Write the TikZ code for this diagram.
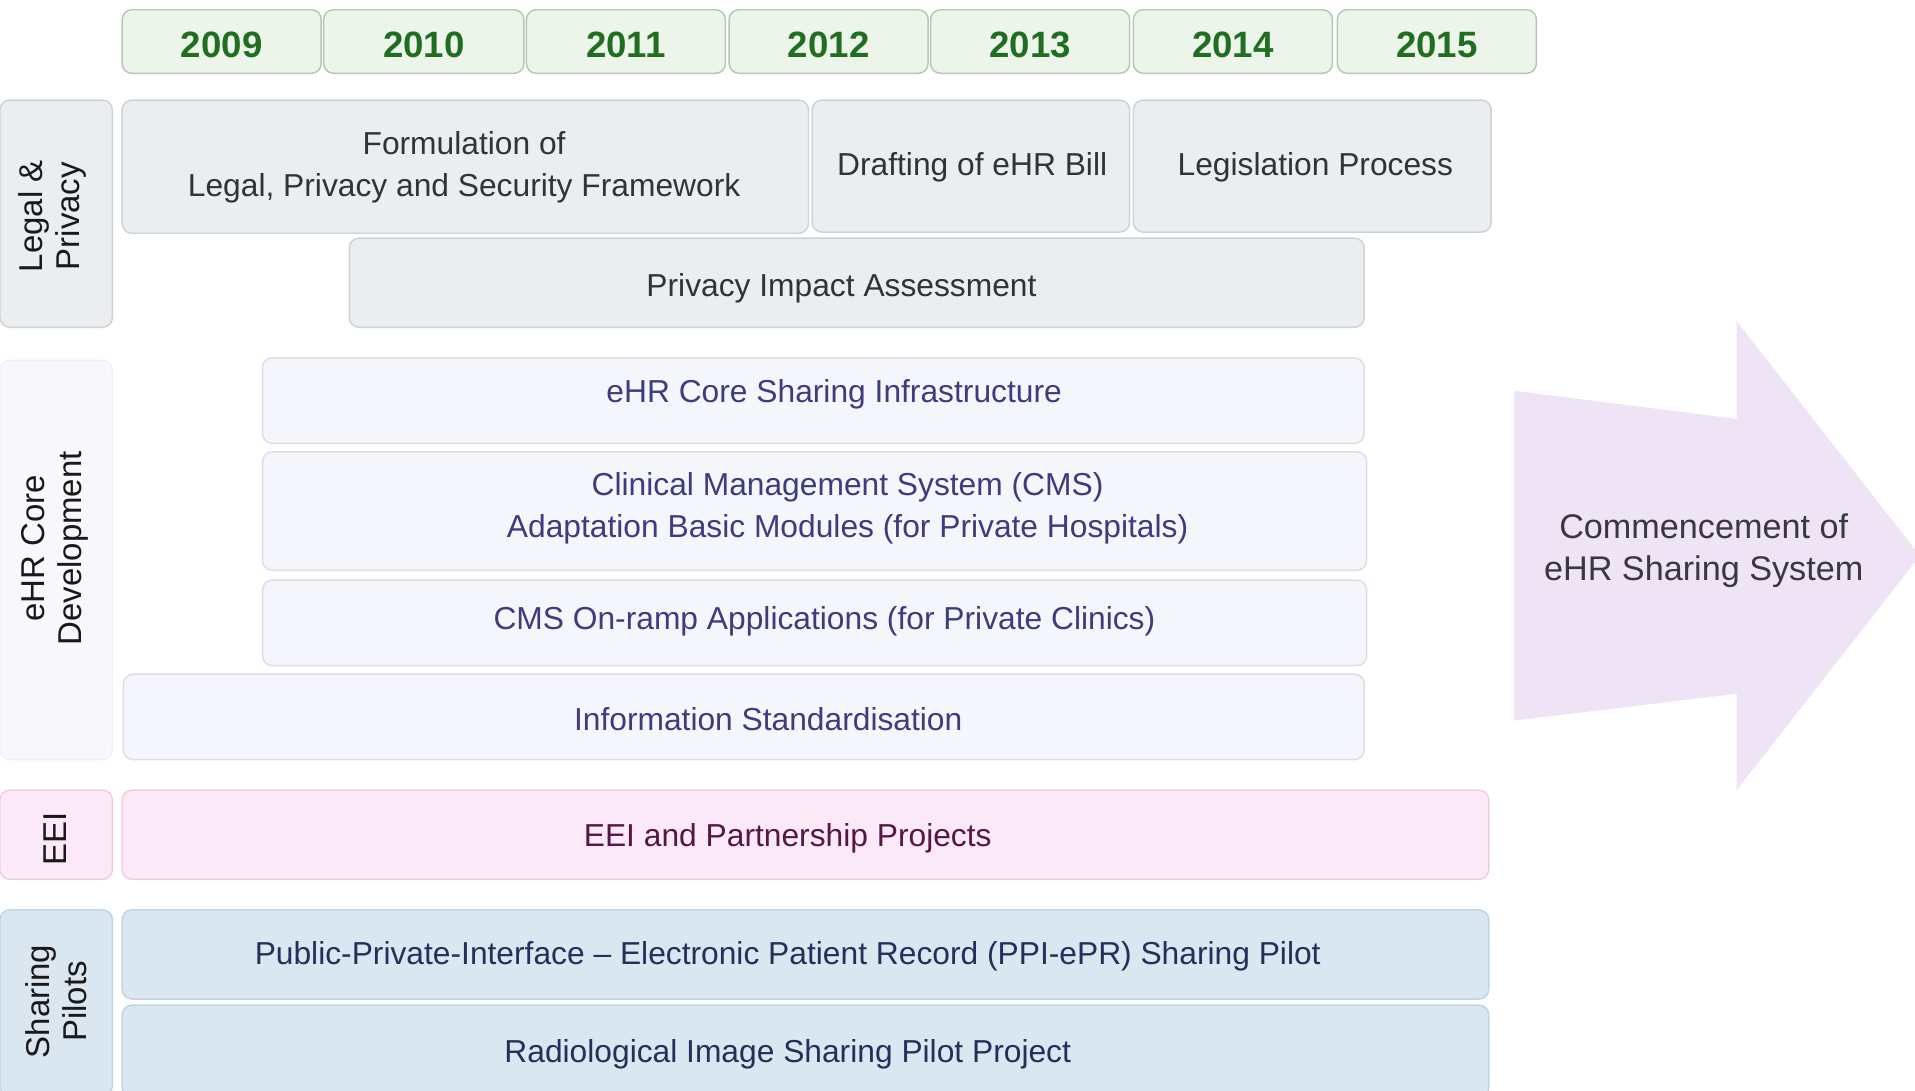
\documentclass[tikz,border=0pt]{standalone}
\usepackage{fontspec}
\setmainfont{Liberation Sans}
\definecolor{yrfill}{HTML}{EDF5EA}
\definecolor{yrline}{HTML}{B5C7B5}
\definecolor{yrtext}{HTML}{206E22}
\definecolor{lgfill}{HTML}{EBEEF1}
\definecolor{lgline}{HTML}{CDD2D7}
\definecolor{lgtext}{HTML}{333333}
\definecolor{cofill}{HTML}{F5F5FC}
\definecolor{coline}{HTML}{DDDDEA}
\definecolor{cotext}{HTML}{3B3D7C}
\definecolor{cocatfill}{HTML}{F8F8FC}
\definecolor{cocatline}{HTML}{F0F0F6}
\definecolor{eefill}{HTML}{FCE9F7}
\definecolor{eeline}{HTML}{F0CCE4}
\definecolor{eetext}{HTML}{551845}
\definecolor{shfill}{HTML}{DAE7F1}
\definecolor{shline}{HTML}{C2D4E3}
\definecolor{shtext}{HTML}{22305A}
\definecolor{arfill}{HTML}{EFE3F6}
\definecolor{artext}{HTML}{38383F}
\newcommand\tbox[9]{%
  \node[box,#1,minimum width={(#5-#3)*0.5pt},minimum height={(#6-#4)*0.5pt}] (#2) at ({(#3+#5)/2},{(#4+#6)/2}) {};
  \node[txt,#1t] (#2t) at (#7,#8) {#9};}
\begin{document}
\begin{tikzpicture}[x=0.5pt,y=-0.5pt,
  box/.style={draw, rounded corners=4pt, line width=0.6pt, inner sep=0pt},
  txt/.style={align=center, inner sep=0pt, yshift=-1pt, font=\fontsize{13}{17}\selectfont},
  yr/.style={fill=yrfill, draw=yrline},
  yrt/.style={text=yrtext, font=\fontsize{15}{18}\selectfont\bfseries},
  lg/.style={fill=lgfill, draw=lgline},
  lgt/.style={text=lgtext},
  co/.style={fill=cofill, draw=coline},
  cot/.style={text=cotext},
  cc/.style={fill=cocatfill, draw=cocatline},
  cct/.style={text=black!85},
  ee/.style={fill=eefill, draw=eeline},
  eet/.style={text=eetext},
  sh/.style={fill=shfill, draw=shline},
  sht/.style={text=shtext},
  cat/.style={txt, rotate=90, text=black!90, font=\fontsize{13.5}{15}\selectfont}]
\useasboundingbox (0,0) rectangle (1568,893);
\clip (0,0) rectangle (1568,893);
% years
\tbox{yr}{y09}{100}{8}{263}{60}{181.5}{35}{2009}
\tbox{yr}{y10}{265}{8}{429}{60}{347}{35}{2010}
\tbox{yr}{y11}{431}{8}{594}{60}{512.5}{35}{2011}
\tbox{yr}{y12}{597}{8}{760}{60}{678.5}{35}{2012}
\tbox{yr}{y13}{762}{8}{925}{60}{843.5}{35}{2013}
\tbox{yr}{y14}{928}{8}{1091}{60}{1009.5}{35}{2014}
\tbox{yr}{y15}{1095}{8}{1258}{60}{1176.5}{35}{2015}
% category boxes
\node[box,lg,minimum width=46pt,minimum height=93pt] (clg) at (46,175) {};
\node[cat] (clgt) at (43,175) {Legal \&\\Privacy};
\node[box,cc,minimum width=46pt,minimum height=163.5pt] (ccd) at (46,458.5) {};
\node[cat] (ccdt) at (45,447) {eHR Core\\Development};
\node[box,ee,minimum width=46pt,minimum height=36.5pt] (cee) at (46,683.5) {};
\node[cat] (ceet) at (45,685) {EEI};
\node[box,sh,minimum width=46pt,minimum height=76pt] (csh) at (46,821) {};
\node[cat] (csht) at (46,818) {Sharing\\Pilots};
% legal & privacy
\tbox{lg}{form}{100}{82}{662}{191}{380}{135}{Formulation of\\Legal, Privacy and Security Framework}
\tbox{lg}{draft}{665}{82}{925}{190}{796}{135}{Drafting of eHR Bill}
\tbox{lg}{legis}{928}{82}{1221}{190}{1077}{135}{Legislation Process}
\tbox{lg}{pia}{286}{195}{1117}{268}{689}{234}{Privacy Impact Assessment}
% eHR core
\tbox{co}{infra}{215}{293}{1117}{363}{683}{321}{eHR Core Sharing Infrastructure}
\tbox{co}{cms}{215}{370}{1119}{467}{694}{414}{Clinical Management System (CMS)\\Adaptation Basic Modules (for Private Hospitals)}
\tbox{co}{onramp}{215}{475}{1119}{545}{675}{507}{CMS On-ramp Applications (for Private Clinics)}
\tbox{co}{infostd}{101}{552}{1117}{622}{629}{587}{Information Standardisation}
% EEI
\tbox{ee}{eei}{100}{647}{1219}{720}{645}{684}{EEI and Partnership Projects}
% sharing pilots
\tbox{sh}{ppi}{100}{745}{1219}{818}{645}{781}{Public-Private-Interface -- Electronic Patient Record (PPI-ePR) Sharing Pilot}
\tbox{sh}{radio}{100}{823}{1219}{899}{645}{861}{Radiological Image Sharing Pilot Project}
% arrow
\fill[arfill] (1240,320) -- (1422,343) -- (1422,263) -- (1572,455) -- (1422,647) -- (1422,568) -- (1240,590) -- cycle;
\node[txt, text=artext, font=\fontsize{14}{17}\selectfont] (arrowt) at (1395,449) {Commencement of\\eHR Sharing System};
\end{tikzpicture}
\end{document}
